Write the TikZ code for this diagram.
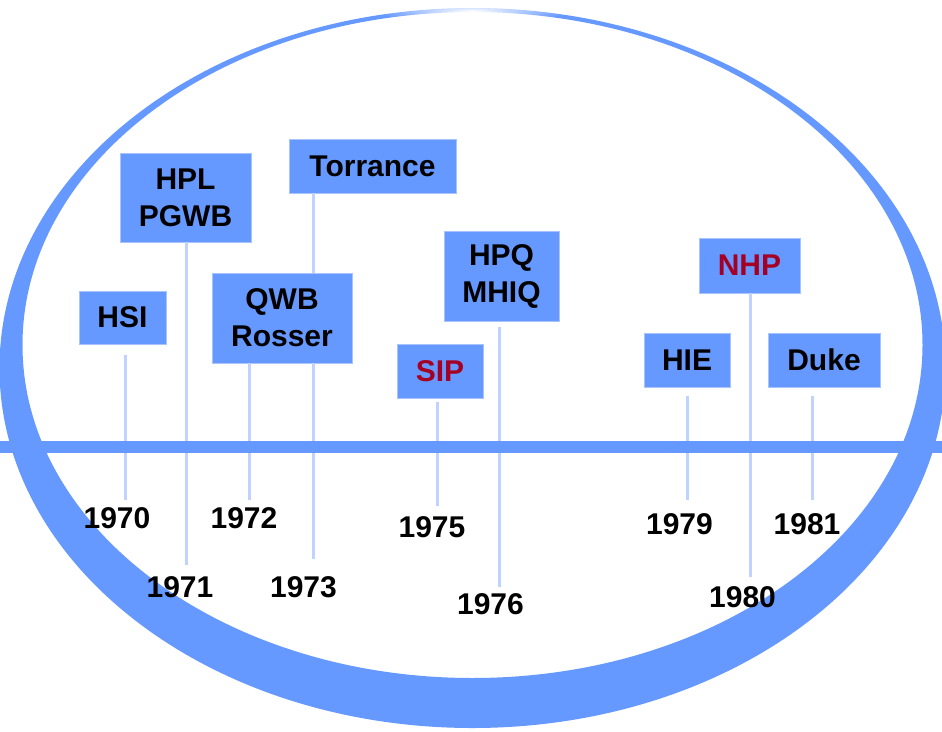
\documentclass[tikz,border=0pt]{standalone}
\usepackage{fontspec}
\setmainfont{Liberation Sans}
\usetikzlibrary{fadings}

\definecolor{ringblue}{RGB}{102,153,255}
\definecolor{boxblue}{RGB}{102,153,255}
\definecolor{boxedge}{RGB}{168,196,255}
\definecolor{ticklight}{RGB}{192,210,255}
\definecolor{datered}{RGB}{165,0,36}

\tikzfading[name=capfade, inner color=transparent!0, outer color=transparent!100]

\begin{document}
\begin{tikzpicture}[x=1pt, y=-1pt,
  evtbox/.style={fill=boxblue, draw=boxedge, line width=0.8pt, inner sep=0pt,
    align=center, font=\bfseries\fontsize{30}{37}\selectfont},
  yearlabel/.style={inner sep=0pt, font=\bfseries\fontsize{30}{36}\selectfont},
  tick/.style={draw=ticklight, line width=3pt},
  hotlabel/.style={text=datered}]

  % canvas
  \useasboundingbox (0,0) rectangle (942,731);
  \fill[white] (0,0) rectangle (942,731);
  \clip (0,0) rectangle (942,731);

  % the ring: thick at the bottom, tapering to a hairline at the top
  \fill[ringblue, even odd rule]
    (472.5,368) ellipse (473 and 360)
    (472.5,345) ellipse (450 and 333);
  \fill[white, path fading=capfade] (472,11) ellipse (95 and 12);

  % event boxes
  \node[evtbox, minimum width=87pt,  minimum height=53pt] (hsi)  at (122.5,317.5) {HSI};
  \node[evtbox, minimum width=131pt, minimum height=89pt] (hpl)  at (185.5,197.5) {HPL\\PGWB};
  \node[evtbox, minimum width=167pt, minimum height=54pt] (torr) at (372.5,166)   {Torrance};
  \node[evtbox, minimum width=140pt, minimum height=90pt] (qwb)  at (282,318)     {QWB\\Rosser};
  \node[evtbox, minimum width=115pt, minimum height=90pt] (hpq)  at (501.5,276)   {HPQ\\MHIQ};
  \node[evtbox, hotlabel, minimum width=86pt,  minimum height=54pt] (sip)  at (440,371)   {SIP};
  \node[evtbox, hotlabel, minimum width=101pt, minimum height=55pt] (nhp)  at (749.5,265.5) {NHP};
  \node[evtbox, minimum width=86pt,  minimum height=54pt] (hie)  at (687,360)     {HIE};
  \node[evtbox, minimum width=112pt, minimum height=54pt] (duke) at (824,360)     {Duke};

  % year labels
  \node[yearlabel] (y1970) at (117,518)   {1970};
  \node[yearlabel] (y1971) at (180,587)   {1971};
  \node[yearlabel] (y1972) at (244,518)   {1972};
  \node[yearlabel] (y1973) at (303.5,587) {1973};
  \node[yearlabel] (y1975) at (432,527.5) {1975};
  \node[yearlabel] (y1976) at (490.5,604) {1976};
  \node[yearlabel] (y1979) at (679.5,524) {1979};
  \node[yearlabel] (y1980) at (742.5,597) {1980};
  \node[yearlabel] (y1981) at (807,524)   {1981};

  % ticks from each box down to its year
  \draw[tick] ([xshift=2.5pt,yshift=-11pt]hsi.south) -- ([xshift=8pt,yshift=7pt]y1970.north);
  \draw[tick] ([xshift=0.5pt]hpl.south) -- ([xshift=6pt,yshift=11pt]y1971.north);
  \draw[tick] ([xshift=-33pt]qwb.south) -- ([xshift=5pt,yshift=7pt]y1972.north);
  \draw[tick] ([xshift=-59.5pt]torr.south) -- ([xshift=31pt]qwb.north);
  \draw[tick] ([xshift=31pt]qwb.south) -- ([xshift=9.5pt,yshift=17pt]y1973.north);
  \draw[tick] ([xshift=-3pt,yshift=-4pt]sip.south) -- ([xshift=5pt,yshift=11pt]y1975.north);
  \draw[tick] ([xshift=-2.5pt,yshift=-6pt]hpq.south) -- ([xshift=8.5pt,yshift=6pt]y1976.north);
  \draw[tick] ([yshift=-9pt]hie.south) -- ([xshift=7.5pt,yshift=13pt]y1979.north);
  \draw[tick] ([xshift=0.5pt]nhp.south) -- ([xshift=7.5pt,yshift=9pt]y1980.north);
  \draw[tick] ([xshift=-12pt,yshift=-9pt]duke.south) -- ([xshift=5pt,yshift=13pt]y1981.north);

  % the time axis
  \coordinate (axisW) at (0,447);
  \coordinate (axisE) at (942,447);
  \draw[ringblue, line width=12pt] (axisW) -- (axisE);
\end{tikzpicture}
\end{document}
